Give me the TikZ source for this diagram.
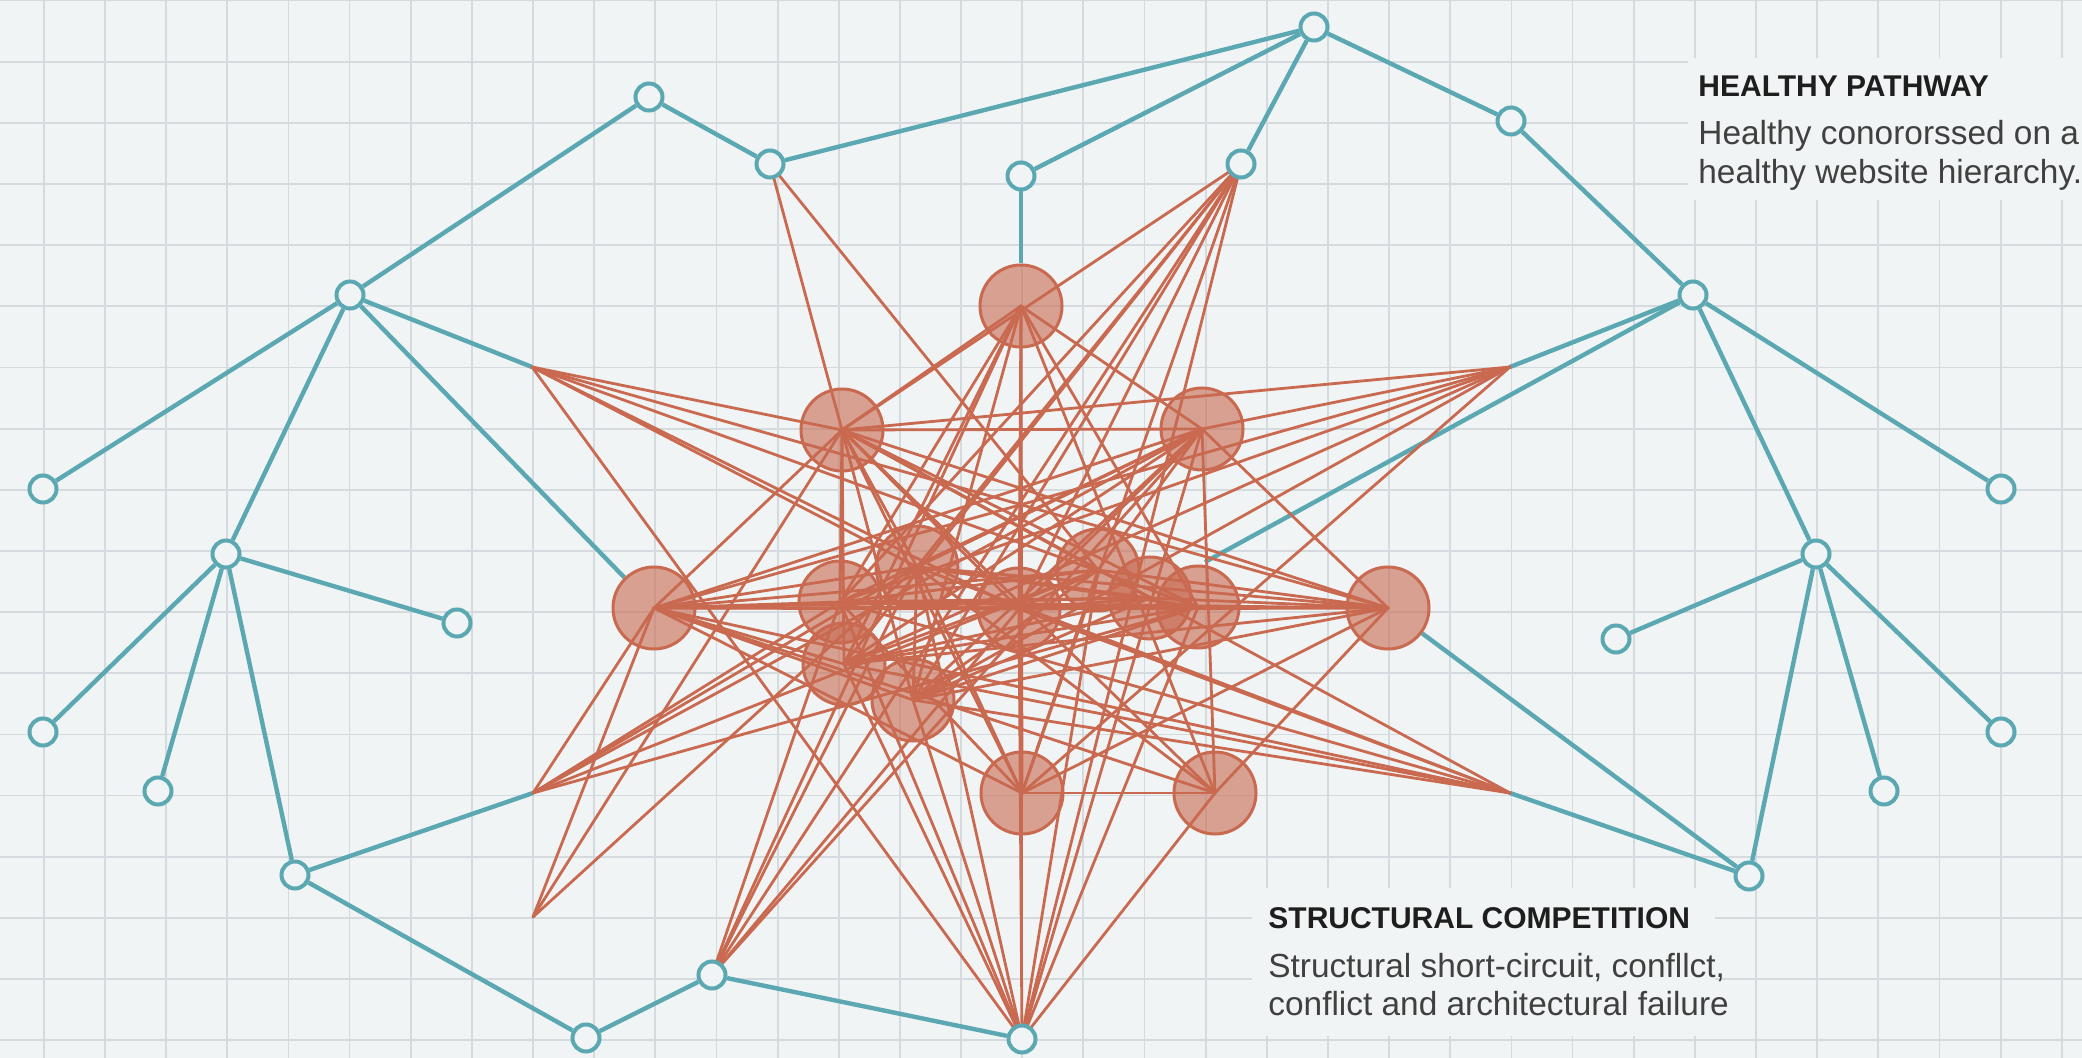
\documentclass[tikz,border=0pt]{standalone}
\usepackage{fontspec}
\setmainfont{Liberation Sans}
\definecolor{bgc}{RGB}{240,244,244}
\definecolor{gridc}{RGB}{212,218,221}
\definecolor{tealc}{RGB}{91,168,179}
\definecolor{redc}{RGB}{201,105,80}
\definecolor{redf}{RGB}{200,105,80}
\definecolor{txt}{RGB}{30,30,30}
\pgfdeclarelayer{gridlayer}
\pgfdeclarelayer{edgelayer}
\pgfsetlayers{gridlayer,edgelayer,main}
\tikzset{
  gridline/.style={draw=gridc,line width=0.9pt},
  tealline/.style={draw=tealc,line width=2.2pt},
  redline/.style={draw=redc,line width=1.4pt,line cap=round},
  leaf/.style={circle,draw=tealc,fill=bgc,line width=2pt,minimum size=13.5pt,inner sep=0pt},
  hub/.style={circle,draw=redc,line width=1.5pt,fill=redf,fill opacity=0.6,minimum size=41pt,inner sep=0pt},
  headtxt/.style={anchor=base west,inner sep=0pt,text=txt,font=\fontsize{15}{18}\selectfont\bfseries},
  bodytxt/.style={anchor=base west,inner sep=0pt,text=txt!85,font=\fontsize{16.7}{20}\selectfont}
}
\begin{document}
\begin{tikzpicture}[x=0.5pt,y=-0.5pt]
\useasboundingbox (0,0) rectangle (2082,1058);
\begin{pgfonlayer}{gridlayer}
\fill[bgc] (0,0) rectangle (2082,1058);
\foreach \i in {0,...,33} \draw[gridline] ({43.8+61.15*\i},0) -- ({43.8+61.15*\i},1058);
\foreach \j in {0,...,17} \draw[gridline] (0,{0.6+61.15*\j}) -- (2082,{0.6+61.15*\j});
\fill[bgc] (1688,58) rectangle (2082,200);
\fill[bgc] (1252,888) rectangle (1715,1036);
\end{pgfonlayer}

% teal tree nodes
\node[leaf] (T1) at (1314,27) {};
\node[leaf] (T2) at (649,97) {};
\node[leaf] (T3) at (770,164) {};
\node[leaf] (T4) at (1021,176) {};
\node[leaf] (T5) at (1241,164) {};
\node[leaf] (T6) at (1511,121) {};
\node[leaf] (T7) at (350,295) {};
\node[leaf] (T8) at (1693,295) {};
\node[leaf] (T9) at (43,489) {};
\node[leaf] (T10) at (226,554) {};
\node[leaf] (T11) at (457,623) {};
\node[leaf] (T12) at (43,732) {};
\node[leaf] (T13) at (158,791) {};
\node[leaf] (T14) at (295,875) {};
\node[leaf] (T15) at (712,975) {};
\node[leaf] (T16) at (586,1038) {};
\node[leaf] (T17) at (1022,1039) {};
\node[leaf] (T18) at (2001,489) {};
\node[leaf] (T19) at (1816,554) {};
\node[leaf] (T20) at (1616,639) {};
\node[leaf] (T21) at (2001,732) {};
\node[leaf] (T22) at (1884,791) {};
\node[leaf] (T23) at (1749,876) {};

% red hub nodes
\node[hub] (R1) at (1021,306) {};
\node[hub] (R2) at (842,430) {};
\node[hub] (R3) at (1202,429) {};
\node[hub] (R4) at (654,608) {};
\node[hub] (R5) at (1388,608) {};
\node[hub] (R6) at (840,602) {};
\node[hub] (R7) at (917,567) {};
\node[hub] (R8) at (1019,609) {};
\node[hub] (R9) at (1098,570) {};
\node[hub] (R11) at (1150,598) {};
\node[hub] (R10) at (1198,607) {};
\node[hub] (R12) at (844,664) {};
\node[hub] (R13) at (913,700) {};
\node[hub] (R14) at (1022,793) {};
\node[hub] (R15) at (1215,793) {};

% free red vertices
\coordinate (V1) at (532,367);
\coordinate (V2) at (1510,367);
\coordinate (V3) at (533,793);
\coordinate (V4) at (1510,793);
\coordinate (V5) at (533,917);
\coordinate (X1) at (1205,562);

\begin{pgfonlayer}{edgelayer}
\foreach \a/\b in {T1/T3,T1/T4,T1/T5,T1/T6,T2/T3,T2/T7,T4/R1,T6/T8,T7/T9,T7/T10,T7/V1,T7/R4,
  T10/T11,T10/T12,T10/T13,T10/T14,T14/V3,T14/T16,T16/T15,T15/T17,
  T8/T18,T8/T19,T8/V2,T8/X1,T19/T20,T19/T21,T19/T22,T19/T23,T23/V4,T23/R5}
  \draw[tealline] (\a) -- (\b);
\foreach \a/\b in {T3/R2,T3/R9,
  T5/R2,T5/R6,T5/R12,T5/R13,T5/R8,T5/R14,T5/T17,T5/R7,T5/T15,
  R1/R2,R1/R3,R1/R14,R1/R13,R1/R12,R1/R8,R1/R15,R1/R10,R1/R6,
  V1/R2,V1/R8,V1/R10,V1/R5,V1/T17,V1/R7,
  V2/R3,V2/R2,V2/R4,V2/R6,V2/R13,V2/R14,V2/R12,
  V3/R4,V3/R6,V3/R7,V3/R9,V3/R3,V3/R10,
  V4/R2,V4/R6,V4/R7,V4/R12,V4/R4,V4/R8,V4/R13,
  V5/R2,V5/R7,V5/R4,
  T15/R6,T15/R7,T15/R1,T15/R8,T15/R3,
  T17/R13,T17/R12,T17/R6,T17/R7,T17/R8,T17/R14,T17/R9,T17/R10,T17/R15,T17/R3,
  R2/R3,R2/R5,R2/R10,R2/R11,R2/R9,R2/R8,R2/R7,R2/R15,R2/R14,R2/R6,R2/R12,R2/R4,R2/R13,
  R3/R4,R3/R6,R3/R7,R3/R12,R3/R13,R3/R15,R3/R5,R3/R8,R3/R9,
  R4/R5,R4/R10,R4/R11,R4/R9,R4/R8,R4/R7,R4/R6,R4/R12,R4/R13,R4/R15,R4/R14,
  R5/R6,R5/R7,R5/R8,R5/R12,R5/R13,R5/R9,R5/R11,R5/R14,R5/R15,
  R14/R15,R14/R9,R14/R7,R14/R6,
  R6/R10,R6/R9,R6/R11,R7/R10,R7/R15,R7/R11,R7/R13,
  R12/R9,R12/R10,R12/R11,R13/R10,R13/R11,R13/R9,R8/R6,R8/R9,R8/R11}
  \draw[redline] (\a.center) -- (\b.center);
\end{pgfonlayer}

% texts
\node[headtxt] (h1) at (1698,97) {HEALTHY PATHWAY};
\node[bodytxt] (b1a) at (1698,145) {Healthy conororssed on a};
\node[bodytxt] (b1b) at (1698,184) {healthy website hierarchy.};
\node[headtxt] (h2) at (1268,928) {STRUCTURAL COMPETITION};
\node[bodytxt] (b2a) at (1268,977) {Structural short-circuit, confllct,};
\node[bodytxt] (b2b) at (1268,1015) {conflict and architectural failure};
\end{tikzpicture}
\end{document}
